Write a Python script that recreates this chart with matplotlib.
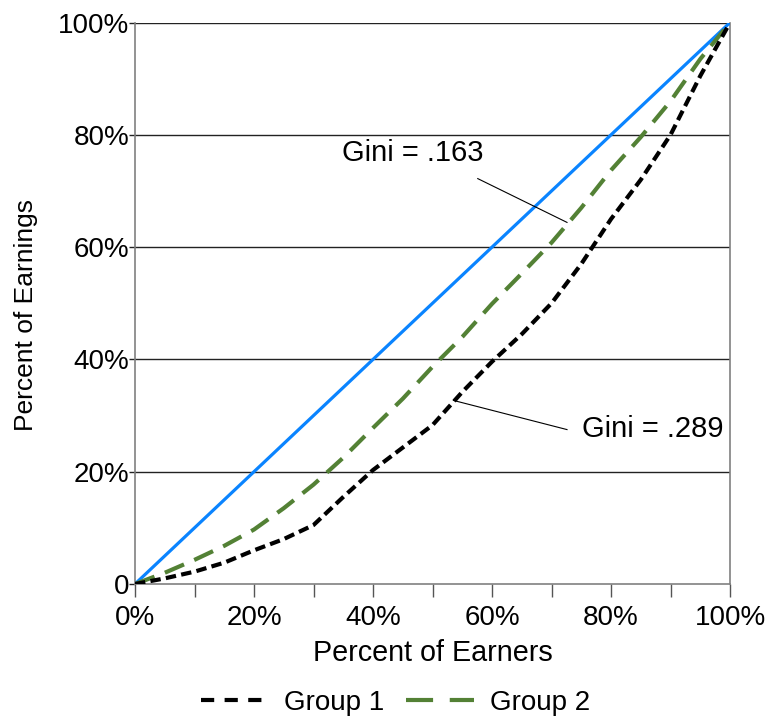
import matplotlib.pyplot as plt
from matplotlib.lines import Line2D

plt.rcParams['font.family'] = ['Liberation Sans', 'DejaVu Sans']
plt.rcParams['lines.scale_dashes'] = False

# Lorenz curve data (percent of earners vs percent of earnings)
earners = [0, 5, 10, 15, 20, 25, 30, 35, 40, 45, 50, 55, 60, 65, 70, 75, 80, 85, 90, 95, 100]
group1 = [0, 1, 2.2, 3.8, 6, 8, 10.5, 15.5, 20.3, 24.3, 28.3, 34.2, 39.6, 44.5, 50, 57, 65, 72, 80, 90.5, 100]
group2 = [0, 2, 4.3, 6.8, 9.7, 13.5, 17.7, 22.5, 27.8, 33, 38.7, 44, 49.9, 55.3, 60.8, 67, 73.7, 79.6, 86, 93.5, 100]
equality = [0, 100]

fig = plt.figure(figsize=(7.75, 7.17), dpi=100)
ax = fig.add_axes([0.1742, 0.1855, 0.942 - 0.1742, 0.9686 - 0.1855])

blue = '#0a84ff'
green = '#538135'
fs = 20

for yv in [20, 40, 60, 80, 100]:
    ax.axhline(yv, color='#222222', lw=1.0, zorder=1)

ax.plot(equality, equality, color=blue, lw=2.3, zorder=3)
ax.plot(earners, group2, color=green, lw=3.0, dashes=(15, 8), zorder=3)
ax.plot(earners, group1, color='black', lw=3.0, dashes=(7.5, 3.8), zorder=4)

ax.set_xlim(0, 100)
ax.set_ylim(0, 100)

ax.set_xticks(range(0, 101, 10))
ax.set_xticklabels(['0%', '', '20%', '', '40%', '', '60%', '', '80%', '', '100%'])
ax.set_yticks(range(0, 101, 20))
ax.set_yticklabels(['0', '20%', '40%', '60%', '80%', '100%'])
ax.tick_params(axis='x', length=9, width=1, color='#555555', labelsize=fs, pad=6)
ax.tick_params(axis='y', length=4, width=1, color='#222222', labelsize=fs, pad=0)

ax.spines['top'].set_visible(False)
for s in ['left', 'right', 'bottom']:
    ax.spines[s].set_color('#808080')
    ax.spines[s].set_linewidth(1.2)

ax.set_xlabel('Percent of Earners', fontsize=20.7, labelpad=6)
ax.set_ylabel('Percent of Earnings', fontsize=19)
ax.yaxis.set_label_coords(-0.163, 0.479)

# annotations with leader lines
ax.text(46.6, 76.7, 'Gini = .163', fontsize=21, ha='center', va='center')
ax.plot([57.6, 72.6], [72.2, 64.4], color='black', lw=0.8, zorder=5)
ax.text(75.1, 27.6, 'Gini = .289', fontsize=21, ha='left', va='center')
ax.plot([53.5, 72.6], [32.7, 27.5], color='black', lw=0.8, zorder=5)

handles = [Line2D([], [], color='black', lw=3.0, dashes=(9.5, 7.5)),
           Line2D([], [], color=green, lw=3.0, dashes=(19.5, 12))]
fig.legend(handles, ['Group 1', 'Group 2'], loc='center', bbox_to_anchor=(0.51, 0.02),
           ncol=2, frameon=False, fontsize=fs, handlelength=2.45, columnspacing=0.8,
           handletextpad=0.55)

fig.savefig('out.png', dpi=100)
